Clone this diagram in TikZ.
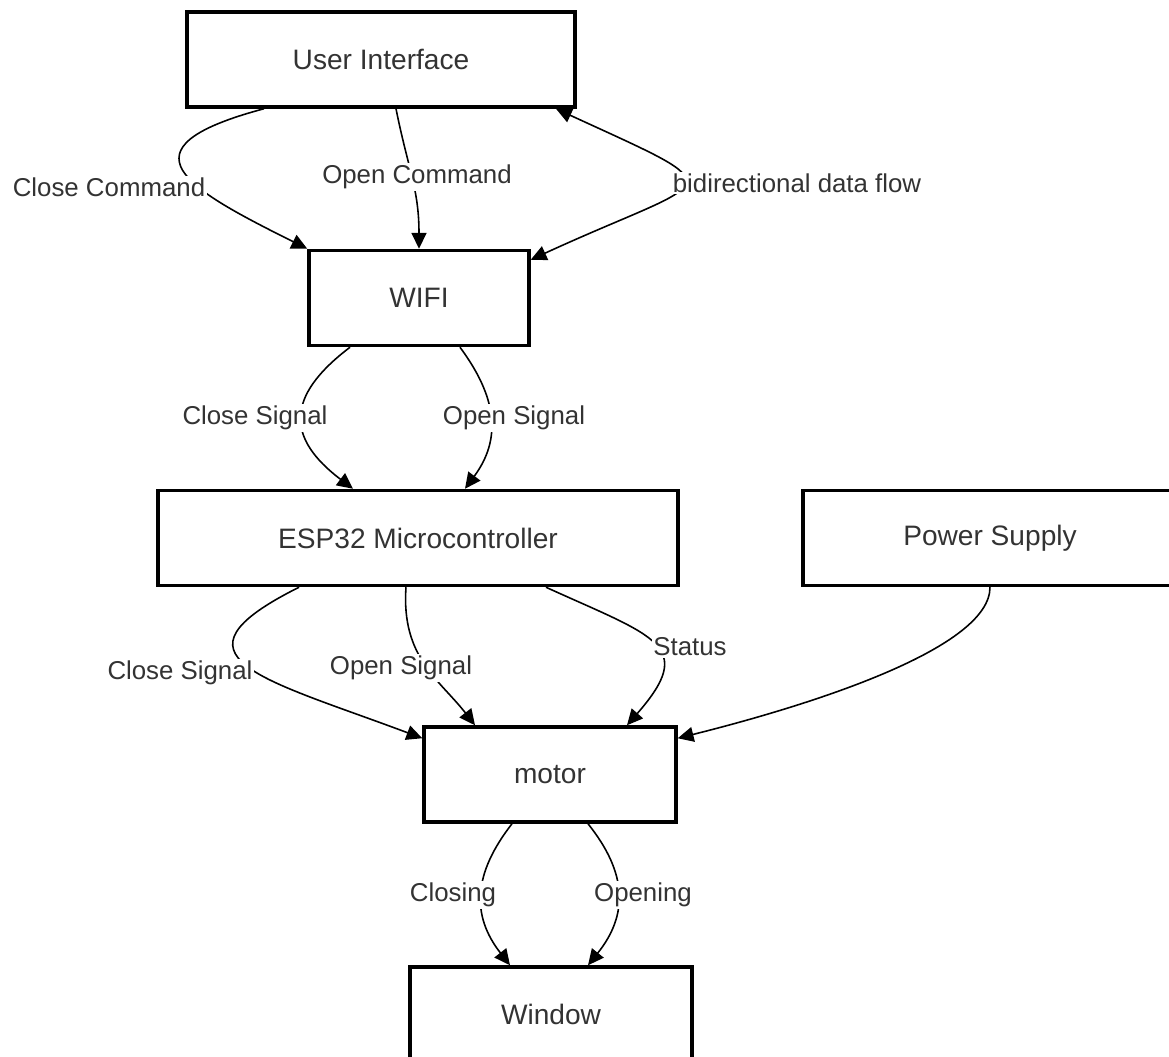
\documentclass[tikz,border=0pt]{standalone}
\usepackage{fontspec}
\setmainfont{Liberation Sans}
\usetikzlibrary{arrows.meta}

\begin{document}
\begin{tikzpicture}[x=0.02cm, y=-0.02cm, >={Triangle[length=9pt, width=8.5pt]},
  box/.style={draw, line width=2pt, minimum height=1.9cm, text=black!80, font=\fontsize{16}{19}\selectfont},
  lbl/.style={fill=white, inner sep=1pt, text=black!80, font=\fontsize{14.7}{17}\selectfont},
  arr/.style={line width=0.9pt, ->}]
  \useasboundingbox (0,0) rectangle (1169,1057);
  \node[box, minimum width=7.76cm] (ui) at (381,59.5) {User Interface};
  \node[box, minimum width=4.4cm] (wifi) at (419,298) {WIFI};
  \node[box, minimum width=10.4cm] (esp) at (418,538) {ESP32 Microcontroller};
  \node[box, minimum width=7.48cm] (power) at (990,538) {Power Supply};
  \node[box, minimum width=5.04cm] (motor) at (550,774.5) {motor};
  \node[box, minimum width=5.64cm] (window) at (551,1014.5) {Window};

  \draw[arr] ([xshift=-2.34cm]ui.south) .. controls +(-150,40) and +(-120,-60) .. (wifi.north west)
    node[lbl] at (109,187) {Close Command};
  \draw[arr] ([xshift=0.3cm]ui.south) .. controls +(12,60) and +(0,-60) .. (wifi.north)
    node[lbl] at (417,177) {Open Command};
  \draw[arr, <->] ([xshift=3.5cm]ui.south) .. controls +(185,85) and +(185,-85) .. ([yshift=-0.22cm]wifi.north east)
    node[lbl] at (797,183) {bidirectional data flow};

  \draw[arr] ([xshift=-1.38cm]wifi.south) .. controls +(-66,50) and +(-66,-50) .. ([xshift=-1.3cm]esp.north)
    node[lbl] at (255,418) {Close Signal};
  \draw[arr] ([xshift=0.82cm]wifi.south) .. controls +(37,50) and +(37,-50) .. ([xshift=0.94cm]esp.north)
    node[lbl] at (514,418) {Open Signal};

  \draw[arr] ([xshift=-2.38cm]esp.south) .. controls +(-140,70) and +(-160,-60) .. ([yshift=-0.26cm]motor.north west)
    node[lbl] at (180,673) {Close Signal};
  \draw[arr] ([xshift=-0.24cm]esp.south) .. controls +(-5,70) and +(-35,-45) .. ([xshift=-1.5cm]motor.north)
    node[lbl] at (401,668) {Open Signal};
  \draw[arr] ([xshift=2.56cm]esp.south) .. controls +(110,50) and +(70,-80) .. ([xshift=1.54cm]motor.north)
    node[lbl] at (690,647) {Status};
  \draw[arr] (power.south) .. controls +(0,60) and +(140,-35) .. ([yshift=-0.26cm]motor.north east);

  \draw[arr] ([xshift=-0.76cm]motor.south) .. controls +(-39,50) and +(-39,-50) .. ([xshift=-0.82cm]window.north)
    node[lbl] at (453,895) {Closing};
  \draw[arr] ([xshift=0.76cm]motor.south) .. controls +(40,50) and +(40,-50) .. ([xshift=0.74cm]window.north)
    node[lbl] at (643,895) {Opening};
\end{tikzpicture}
\end{document}
